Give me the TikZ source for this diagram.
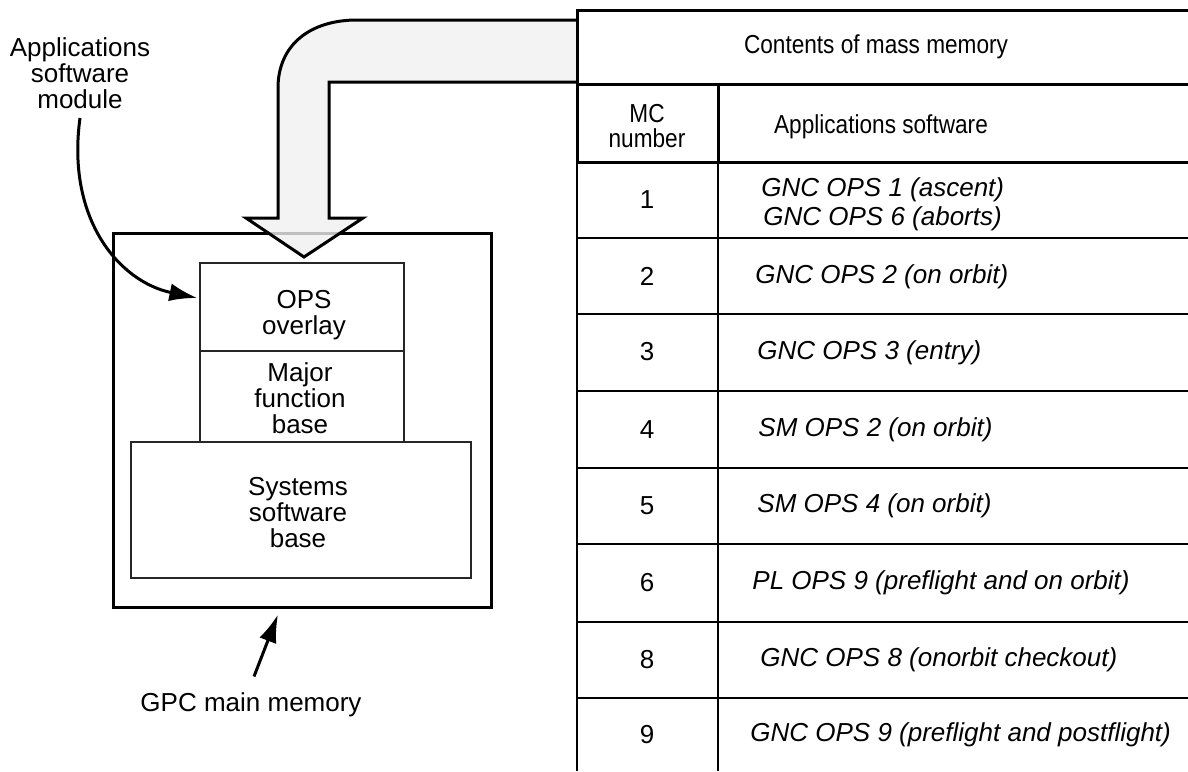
\documentclass[tikz,border=0pt]{standalone}
\usepackage{fontspec}
\setmainfont{Liberation Sans}
\newfontfamily\hdrfont{Liberation Sans}[FakeStretch=0.87]
\usetikzlibrary{arrows.meta}
\begin{document}
\begin{tikzpicture}[x=0.5pt,y=-0.5pt,
  lbl/.style={inner sep=0pt, align=center, font=\fontsize{13}{13}\selectfont},
  num/.style={inner sep=0pt, font=\fontsize{13}{13}\selectfont},
  ent/.style={inner sep=0pt, anchor=west, font=\fontsize{13}{13}\selectfont\itshape},
  hdr/.style={inner sep=0pt, align=center, font=\hdrfont\fontsize{13}{12.5}\selectfont},
  outerbox/.style={draw, line width=1.5pt, inner sep=0pt},
  innerbox/.style={draw, line width=0.6pt, draw=black!85, inner sep=0pt},
  pipe/.style={line width=1.5pt, fill=black!6, fill opacity=0.8, line join=miter},
  heavyrule/.style={line width=1.5pt},
  lightrule/.style={line width=0.8pt},
  callout/.style={line width=1.5pt, -{Latex[length=14pt,width=9pt]}}
]
\useasboundingbox (0,0) rectangle (1188,771);

% GPC main memory box and its contents
\node[outerbox, minimum width=189pt, minimum height=187pt] (gpc) at (302,420) {};
\node[innerbox, minimum width=102pt, minimum height=44pt] (ops) at (302,307) {};
\node[innerbox, minimum width=102pt, minimum height=45.5pt] (mfb) at (302,396.5) {};
\node[innerbox, minimum width=170pt, minimum height=68pt] (ssb) at (301,510) {};
\node[lbl] (opst) at (304,315) {OPS\\overlay};
\node[lbl] (mfbt) at (300,398) {Major\\function\\base};
\node[lbl] (ssbt) at (298,513) {Systems\\software\\base};

% pipe arrow from mass memory
\draw[pipe] (577,20) -- (357,20) .. controls (310,20) and (278,45) .. (278,88)
  -- (278,218) -- (246,218) -- (304,257) -- (363,218) -- (329,218) -- (329,82) -- (577,82);

% labels and callouts
\node[lbl] (appmod) at (80,73) {Applications\\software\\module};
\coordinate (a1) at (80,118);
\draw[callout] (a1) .. controls (66,220) and (120,282) .. ([shift={(-2,-9)}]ops.west);
\node[lbl] (gpclbl) at (251,705) {GPC main memory};
\draw[callout] ([shift={(3,-16)}]gpclbl.north) -- ([shift={(-24,6)}]gpc.south);

% table of mass memory contents
\draw[heavyrule] (1188,10) -- (577,10) -- (577,162);
\draw[heavyrule] (577,84) -- (1188,84);
\draw[heavyrule] (577,162) -- (1188,162);
\draw[heavyrule] (718,84) -- (718,162);
\draw[lightrule] (577,162) -- (577,771);
\draw[line width=0.9pt] (718,162) -- (718,771);
\foreach \yy in {238,314,391,468,544,622,698}
  \draw[lightrule] (577,\yy) -- (1188,\yy);

\node[hdr] (cmm) at (876,47) {Contents of mass memory};
\node[hdr] (mcn) at (647,126) {MC\\number};
\node[hdr] (aps) at (881,127) {Applications software};

\node[num] (n1) at (647,200) {1};
\node[num] (n2) at (647,276) {2};
\node[num] (n3) at (647,352) {3};
\node[num] (n4) at (647,430) {4};
\node[num] (n5) at (647,506) {5};
\node[num] (n6) at (647,583) {6};
\node[num] (n8) at (647,660) {8};
\node[num] (n9) at (647,735) {9};

\node[ent] (r1a) at (761,190) {GNC OPS 1 (ascent)};
\node[ent] (r1b) at (763,219) {GNC OPS 6 (aborts)};
\node[ent] (r2) at (755,277) {GNC OPS 2 (on orbit)};
\node[ent] (r3) at (757,353) {GNC OPS 3 (entry)};
\node[ent] (r4) at (758,430) {SM OPS 2 (on orbit)};
\node[ent] (r5) at (757,506) {SM OPS 4 (on orbit)};
\node[ent] (r6) at (752,583) {PL OPS 9 (preflight and on orbit)};
\node[ent] (r8) at (760,660) {GNC OPS 8 (onorbit checkout)};
\node[ent] (r9) at (750,735) {GNC OPS 9 (preflight and postflight)};
\end{tikzpicture}
\end{document}
